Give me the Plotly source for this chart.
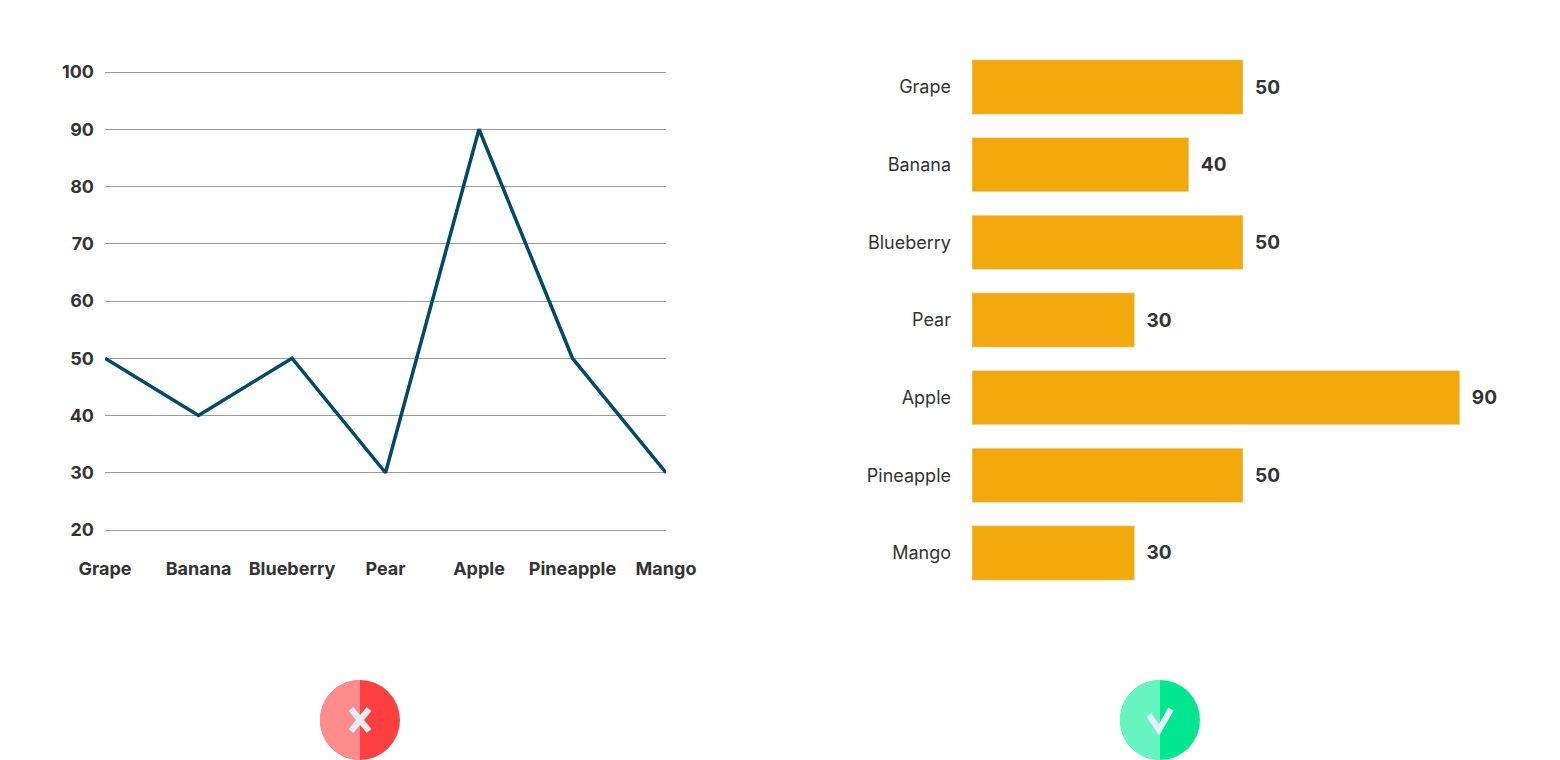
import plotly.graph_objects as go
import math

categories = ["Grape", "Banana", "Blueberry", "Pear", "Apple", "Pineapple", "Mango"]
values = [50, 40, 50, 30, 90, 50, 30]
y_ticks = [20, 30, 40, 50, 60, 70, 80, 90, 100]

W, H = 1560, 760
def px(x): return x / W
def py(y): return 1 - y / H

fig = go.Figure()
fig.add_trace(go.Scatter(x=list(range(len(categories))), y=values, mode="lines",
                         line=dict(color="#004a66", width=3.5), xaxis="x", yaxis="y",
                         cliponaxis=False, hoverinfo="skip"))
fig.add_trace(go.Bar(y=categories, x=values, orientation="h", marker_color="#f2a90b",
                     text=[f"  {v}" for v in values], textposition="outside",
                     cliponaxis=False,
                     textfont=dict(family="Inter", size=19, color="#333333", weight="bold"),
                     xaxis="x2", yaxis="y2", hoverinfo="skip"))

font_b = dict(family="Inter", size=18, color="#333333", weight="bold")
pad = 0.3
fig.update_layout(
    width=W, height=H, margin=dict(l=0, r=0, t=0, b=0, autoexpand=False),
    paper_bgcolor="white", plot_bgcolor="white", showlegend=False,
    xaxis=dict(domain=[px(105), px(666)], range=[0, 6], tickvals=list(range(len(categories))),
               ticktext=categories, showgrid=False, zeroline=False, tickfont=font_b,
               ticklabelstandoff=24, fixedrange=True, automargin=False, anchor="y"),
    yaxis=dict(domain=[py(530 + pad * 5.73), py(72 - pad * 5.73)], range=[20 - pad, 100 + pad],
               tickvals=y_ticks, showgrid=True, gridcolor="#9a9a9a", gridwidth=1, zeroline=False,
               tickfont=font_b, ticklabelstandoff=10, automargin=False, anchor="x"),
    xaxis2=dict(domain=[px(972), 1], range=[0, 588 / 5.42], visible=False, anchor="y2",
                automargin=False),
    yaxis2=dict(domain=[py(591.8), py(48.2)], anchor="x2", autorange="reversed",
                showgrid=False, zeroline=False, ticklabelstandoff=20, automargin=False,
                tickfont=dict(family="Inter", size=18, color="#333333")),
    bargap=0.3,
)

# icons
for cx, cl, cr, sym in [(360, "#ff8c8c", "#ff4040", "x"), (1160, "#66f5c0", "#00e88f", "check")]:
    r = 40
    fig.add_shape(type="circle", xref="paper", yref="paper",
                  x0=px(cx - r), x1=px(cx + r), y0=py(720 + r), y1=py(720 - r),
                  fillcolor=cr, line_width=0)
    pts = [(cx - r * math.sin(math.pi * k / 40), 720 - r * math.cos(math.pi * k / 40)) for k in range(41)]
    path = "M " + " L ".join(f"{px(a)},{py(b)}" for a, b in pts) + " Z"
    fig.add_shape(type="path", xref="paper", yref="paper", path=path,
                  fillcolor=cl, line_width=0)
    if sym == "x":
        for (a, b, c, d) in [(-9, -11, 9, 11), (-9, 11, 9, -11)]:
            fig.add_shape(type="line", xref="paper", yref="paper",
                          x0=px(cx + a), y0=py(720 + b), x1=px(cx + c), y1=py(720 + d),
                          line=dict(color="#e8eef8", width=6))
    else:
        fig.add_shape(type="path", xref="paper", yref="paper",
                      path=f"M {px(cx-11)},{py(715)} L {px(cx-1)},{py(730)} L {px(cx+11)},{py(709)}",
                      line=dict(color="#e8eef8", width=6))

fig.write_html("out.html", config={"displayModeBar": False},
               post_script="document.body.style.margin='0';document.body.style.overflow='hidden';")
